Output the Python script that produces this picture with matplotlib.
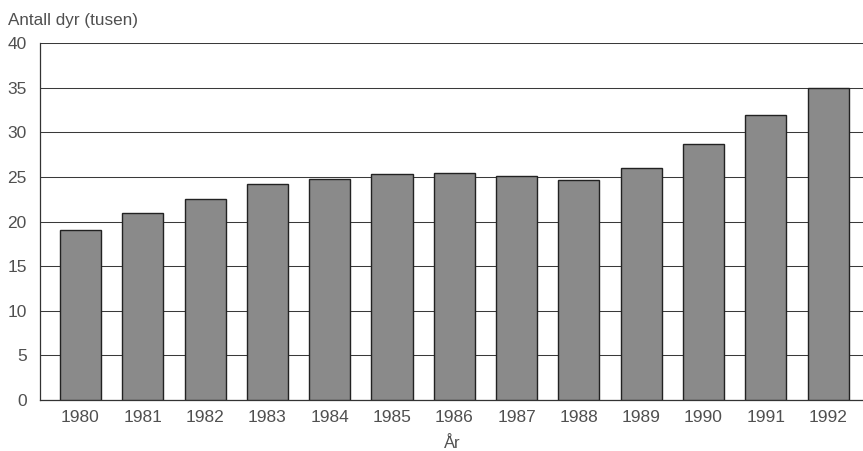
import matplotlib
matplotlib.use("Agg")
import matplotlib.pyplot as plt

# antall dyr (tusen)
years = ["1980", "1981", "1982", "1983", "1984", "1985", "1986",
         "1987", "1988", "1989", "1990", "1991", "1992"]
antall = [19.0, 20.9, 22.5, 24.2, 24.8, 25.3, 25.45, 25.1, 24.7, 26.05, 28.7, 31.95, 35.0]
yticks = [0, 5, 10, 15, 20, 25, 30, 35, 40]

plt.rcParams["font.family"] = ["Liberation Sans", "DejaVu Sans"]
txt = "#505050"

fig = plt.figure(figsize=(8.63, 4.51), dpi=100)
ax = fig.add_axes([40 / 863, 1 - 400 / 451, 823 / 863, 357 / 451])

x = range(len(years))
ax.bar(x, antall, width=0.66, color="#8a8a8a", edgecolor="#222222", linewidth=1.0, zorder=3)

ax.set_ylim(0, 40)
ax.set_xlim(-0.65, 12.56)
ax.set_yticks(yticks)
ax.set_yticklabels([str(t) for t in yticks])
ax.set_xticks(list(x))
ax.set_xticklabels(years)
ax.tick_params(axis="both", length=0, labelsize=12.5, colors=txt)
ax.tick_params(axis="y", pad=9.5)
ax.tick_params(axis="x", pad=7)
ax.yaxis.grid(True, color="#3a3a3a", lw=0.75, zorder=0)

for side in ("top", "right"):
    ax.spines[side].set_visible(False)
ax.spines["left"].set_color("#333333")
ax.spines["bottom"].set_color("#333333")
ax.spines["left"].set_linewidth(0.9)
ax.spines["bottom"].set_linewidth(0.9)

fig.text(8 / 863, 1 - 21 / 451, "Antall dyr (tusen)", fontsize=12.3, color=txt, va="center", ha="left")
fig.text(452 / 863, 1 - 444 / 451, "År", fontsize=12, color=txt, va="center", ha="center")

fig.savefig("out.png", dpi=100)
